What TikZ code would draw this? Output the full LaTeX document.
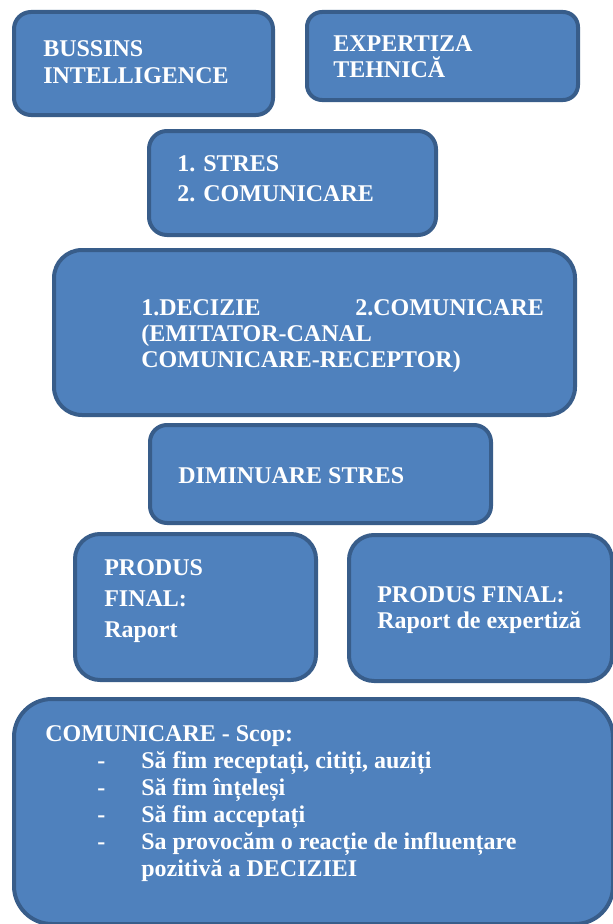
\documentclass[tikz,border=0pt]{standalone}
\usepackage{fontspec}
\setmainfont{Liberation Serif}
\usepackage{xcolor}
\definecolor{boxfill}{HTML}{4F81BD}
\definecolor{boxline}{HTML}{385D8A}
\begin{document}
\begin{tikzpicture}[
  x=0.75pt, y=-0.75pt,
  box/.style={draw=boxline,fill=boxfill,line width=3pt,inner sep=0pt,rounded corners=#1},
  txt/.style={text=white,anchor=base west,inner sep=0pt,align=left,font=\bfseries\fontsize{18}{#1}\selectfont},
  txt/.default=20.25pt
]
  \useasboundingbox (0,0) rectangle (613,924);
  % boxes
  \node[box=12.75pt,minimum width=194.25pt,minimum height=77.25pt] (bi) at (143.5,63.5) {};
  \node[box=11.25pt,minimum width=203.25pt,minimum height=66pt] (et) at (442.5,56) {};
  \node[box=13.5pt,minimum width=215.25pt,minimum height=78pt] (st) at (292.5,183) {};
  \node[box=21pt,minimum width=390.75pt,minimum height=123.75pt] (dc) at (314.5,332.5) {};
  \node[box=12.75pt,minimum width=255.75pt,minimum height=73.5pt] (ds) at (320.5,474) {};
  \node[box=18.75pt,minimum width=180.75pt,minimum height=109.5pt] (pl) at (195.5,607) {};
  \node[box=18.75pt,minimum width=197.25pt,minimum height=109.5pt] (pr) at (480.5,608) {};
  \node[box=28.5pt,minimum width=449.25pt,minimum height=168.75pt] (cb) at (313.5,811.5) {};
  % texts (anchored at the baseline of their last line)
  \node[txt] (bitxt) at (43,84) {BUSSINS\\INTELLIGENCE};
  \node[txt=19.5pt] (ettxt) at (333,78) {EXPERTIZA\\TEHNICĂ};
  \node[txt=22.5pt] (sttxt) at (177,201) {1. STRES\\2. COMUNICARE};
  \node[txt=19.5pt] (dctxt) at (141,367) {1.DECIZIE\\(EMITATOR-CANAL\\COMUNICARE-RECEPTOR)};
  \node[txt] (dctxtb) at (355,315) {2.COMUNICARE};
  \node[txt] (dstxt) at (178,483) {DIMINUARE STRES};
  \node[txt=23.25pt] (pltxt) at (104,637) {PRODUS\\FINAL:\\Raport};
  \node[txt=19.5pt] (prtxt) at (377,628) {PRODUS FINAL:\\Raport de expertiză};
  \node[txt] (cbtxt) at (45,741) {COMUNICARE - Scop:};
  \node[txt] (cbdash) at (97,849) {-\\-\\-\\-};
  \node[txt] (cbitems) at (141,876) {Să fim receptați, citiți, auziți\\Să fim înțeleși\\Să fim acceptați\\Sa provocăm o reacție de influențare\\pozitivă a DECIZIEI};
\end{tikzpicture}
\end{document}
